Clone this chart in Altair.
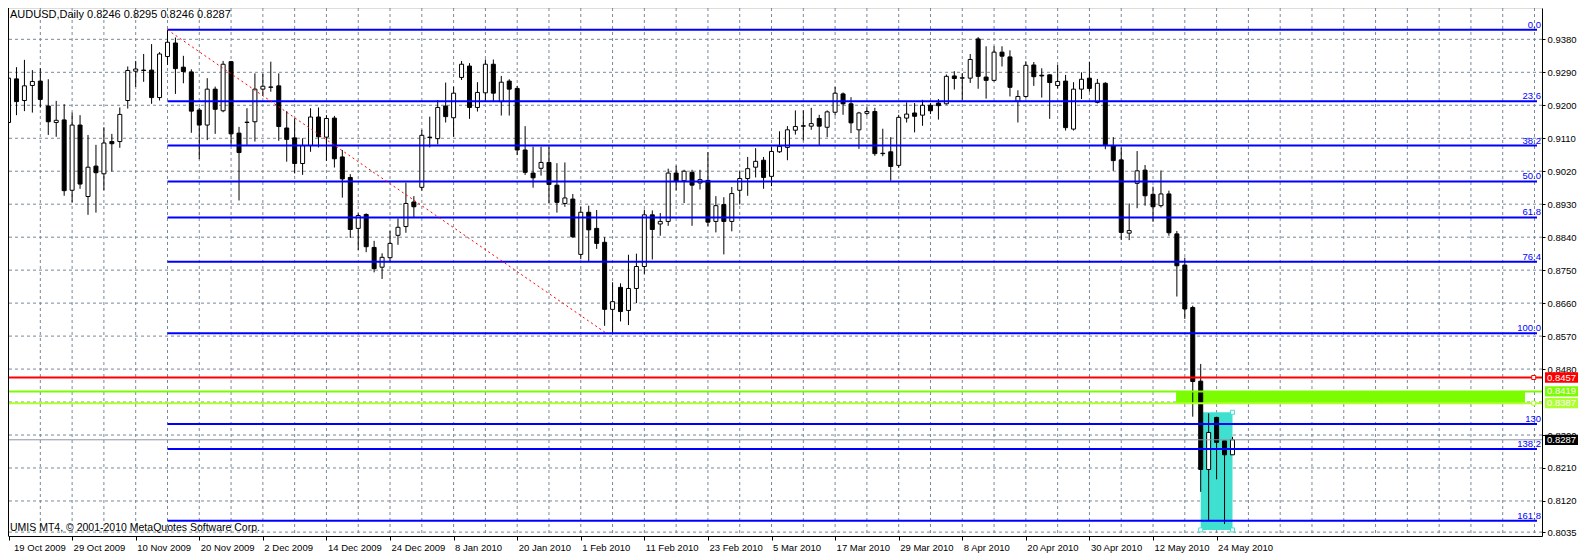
import altair as alt
import pandas as pd

# ---------------- data ----------------
opens = [
    0.9153, 0.9272, 0.9213, 0.9254, 0.9266, 0.9198, 0.9153, 0.9160, 0.8968, 0.9146,
    0.8951, 0.9034, 0.9013, 0.9101, 0.9101, 0.9213, 0.9293, 0.9296, 0.9296, 0.9221,
    0.9333, 0.9370, 0.9304, 0.9291, 0.9187, 0.9146, 0.9244, 0.9185, 0.9319, 0.9124,
    0.9154, 0.9155, 0.9244, 0.9249, 0.9253, 0.9138, 0.9111, 0.9041, 0.9090, 0.9168,
    0.9113, 0.9165, 0.9059, 0.9003, 0.8864, 0.8902, 0.8812, 0.8758, 0.8784, 0.8845,
    0.8869, 0.8936, 0.8976, 0.9113, 0.9109, 0.9198, 0.9166, 0.9276, 0.9307, 0.9194,
    0.9234, 0.9312, 0.9210, 0.9266, 0.9246, 0.9078, 0.9015, 0.9028, 0.9044, 0.8982,
    0.8932, 0.8944, 0.8793, 0.8908, 0.8864, 0.8826, 0.8643, 0.8703, 0.8640, 0.8700,
    0.8760, 0.8901, 0.8876, 0.8883, 0.9015, 0.8994, 0.9017, 0.8988, 0.8995, 0.8883,
    0.8929, 0.8883, 0.8968, 0.9000, 0.9031, 0.9050, 0.9006, 0.9073, 0.9085, 0.9132,
    0.9144, 0.9143, 0.9164, 0.9140, 0.9181, 0.9231, 0.9204, 0.9133, 0.9178, 0.9183,
    0.9069, 0.9073, 0.9036, 0.9165, 0.9179, 0.9173, 0.9200, 0.9206, 0.9204, 0.9280,
    0.9274, 0.9274, 0.9381, 0.9277, 0.9268, 0.9345, 0.9332, 0.9211, 0.9224, 0.9310,
    0.9282, 0.9283, 0.9254, 0.9266, 0.9135, 0.9244, 0.9274, 0.9208, 0.9260, 0.9089,
    0.9051, 0.8851, 0.8987, 0.9023, 0.8957, 0.8926, 0.8958, 0.8849, 0.8764, 0.8648,
    0.8447, 0.8206, 0.8348, 0.8284, 0.8246,
]
highs = [
    0.9283, 0.9304, 0.9324, 0.9296, 0.9301, 0.9271, 0.9212, 0.9203, 0.9180, 0.9173,
    0.9119, 0.9092, 0.9140, 0.9122, 0.9194, 0.9306, 0.9321, 0.9340, 0.9367, 0.9345,
    0.9406, 0.9385, 0.9335, 0.9298, 0.9193, 0.9274, 0.9251, 0.9321, 0.9321, 0.9141,
    0.9192, 0.9287, 0.9287, 0.9319, 0.9287, 0.9184, 0.9164, 0.9110, 0.9192, 0.9194,
    0.9173, 0.9171, 0.9078, 0.9012, 0.8905, 0.8905, 0.8830, 0.8796, 0.8857, 0.8891,
    0.8989, 0.8952, 0.9133, 0.9169, 0.9214, 0.9262, 0.9251, 0.9321, 0.9315, 0.9263,
    0.9325, 0.9325, 0.9280, 0.9271, 0.9253, 0.9143, 0.9087, 0.9087, 0.9087, 0.9042,
    0.9044, 0.8958, 0.8923, 0.8926, 0.8914, 0.8840, 0.8717, 0.8714, 0.8792, 0.8795,
    0.8915, 0.8913, 0.8906, 0.9027, 0.9035, 0.9024, 0.9024, 0.9024, 0.9072, 0.8952,
    0.8949, 0.8977, 0.9020, 0.9059, 0.9083, 0.9059, 0.9086, 0.9129, 0.9143, 0.9186,
    0.9186, 0.9193, 0.9174, 0.9186, 0.9250, 0.9235, 0.9222, 0.9182, 0.9195, 0.9193,
    0.9136, 0.9113, 0.9174, 0.9208, 0.9206, 0.9215, 0.9206, 0.9217, 0.9284, 0.9293,
    0.9288, 0.9340, 0.9386, 0.9361, 0.9361, 0.9361, 0.9350, 0.9241, 0.9320, 0.9318,
    0.9301, 0.9285, 0.9310, 0.9283, 0.9263, 0.9290, 0.9319, 0.9272, 0.9263, 0.9113,
    0.9085, 0.8932, 0.9075, 0.9037, 0.8978, 0.9022, 0.8967, 0.8857, 0.8784, 0.8653,
    0.8494, 0.8359, 0.8350, 0.8284, 0.8295,
]
lows = [
    0.9105, 0.9173, 0.9184, 0.9180, 0.9194, 0.9119, 0.9114, 0.8953, 0.8935, 0.8972,
    0.8901, 0.8907, 0.8968, 0.9019, 0.9084, 0.9191, 0.9250, 0.9264, 0.9204, 0.9213,
    0.9310, 0.9231, 0.9260, 0.9125, 0.9053, 0.9105, 0.9122, 0.9181, 0.9092, 0.8940,
    0.9092, 0.9101, 0.9226, 0.9237, 0.9103, 0.9046, 0.9014, 0.9010, 0.9073, 0.9085,
    0.9048, 0.9030, 0.8948, 0.8838, 0.8805, 0.8799, 0.8744, 0.8726, 0.8773, 0.8819,
    0.8852, 0.8894, 0.8967, 0.9085, 0.9093, 0.9153, 0.9114, 0.9269, 0.9163, 0.9183,
    0.9210, 0.9210, 0.9172, 0.9172, 0.9064, 0.9010, 0.8975, 0.9008, 0.8932, 0.8907,
    0.8923, 0.8838, 0.8780, 0.8775, 0.8808, 0.8598, 0.8578, 0.8610, 0.8600, 0.8660,
    0.8740, 0.8779, 0.8844, 0.8871, 0.8968, 0.8933, 0.8871, 0.8970, 0.8870, 0.8853,
    0.8793, 0.8856, 0.8929, 0.8953, 0.9003, 0.8972, 0.8979, 0.9070, 0.9050, 0.9120,
    0.9104, 0.9133, 0.9091, 0.9113, 0.9172, 0.9174, 0.9124, 0.9081, 0.9172, 0.9062,
    0.9061, 0.8994, 0.9029, 0.9153, 0.9126, 0.9144, 0.9176, 0.9161, 0.9202, 0.9243,
    0.9215, 0.9261, 0.9245, 0.9218, 0.9265, 0.9306, 0.9224, 0.9153, 0.9220, 0.9253,
    0.9221, 0.9163, 0.9246, 0.9131, 0.9131, 0.9217, 0.9237, 0.9205, 0.9080, 0.9021,
    0.8832, 0.8832, 0.8919, 0.8926, 0.8882, 0.8921, 0.8844, 0.8678, 0.8617, 0.8350,
    0.8145, 0.8068, 0.8179, 0.8057, 0.8246,
]
closes = [
    0.9274, 0.9210, 0.9253, 0.9265, 0.9216, 0.9155, 0.9159, 0.8967, 0.9146, 0.8985,
    0.9031, 0.9016, 0.9097, 0.9095, 0.9175, 0.9295, 0.9299, 0.9295, 0.9221, 0.9340,
    0.9372, 0.9300, 0.9292, 0.9184, 0.9146, 0.9244, 0.9189, 0.9312, 0.9122, 0.9071,
    0.9153, 0.9244, 0.9252, 0.9250, 0.9142, 0.9107, 0.9041, 0.9090, 0.9168, 0.9114,
    0.9164, 0.9054, 0.8999, 0.8861, 0.8899, 0.8814, 0.8754, 0.8785, 0.8823, 0.8867,
    0.8932, 0.8923, 0.9118, 0.9112, 0.9194, 0.9169, 0.9233, 0.9312, 0.9194, 0.9235,
    0.9312, 0.9233, 0.9263, 0.9244, 0.9078, 0.9017, 0.9002, 0.9044, 0.8984, 0.8935,
    0.8947, 0.8841, 0.8908, 0.8860, 0.8823, 0.8643, 0.8664, 0.8637, 0.8700, 0.8760,
    0.8901, 0.8861, 0.8883, 0.9015, 0.8992, 0.9020, 0.8982, 0.8997, 0.8881, 0.8926,
    0.8883, 0.8959, 0.9000, 0.9027, 0.9047, 0.9003, 0.9074, 0.9088, 0.9133, 0.9142,
    0.9143, 0.9150, 0.9143, 0.9182, 0.9233, 0.9204, 0.9152, 0.9179, 0.9183, 0.9068,
    0.9068, 0.9033, 0.9167, 0.9176, 0.9170, 0.9200, 0.9185, 0.9199, 0.9279, 0.9273,
    0.9275, 0.9325, 0.9279, 0.9268, 0.9345, 0.9334, 0.9249, 0.9224, 0.9309, 0.9278,
    0.9280, 0.9262, 0.9265, 0.9139, 0.9244, 0.9271, 0.9246, 0.9260, 0.9092, 0.9049,
    0.8853, 0.8858, 0.9021, 0.8953, 0.8923, 0.8958, 0.8852, 0.8762, 0.8644, 0.8446,
    0.8206, 0.8307, 0.8280, 0.8246, 0.8287,
]

date_labels = [
    "19 Oct 2009", "29 Oct 2009", "10 Nov 2009", "20 Nov 2009", "2 Dec 2009",
    "14 Dec 2009", "24 Dec 2009", "8 Jan 2010", "20 Jan 2010", "1 Feb 2010",
    "11 Feb 2010", "23 Feb 2010", "5 Mar 2010", "17 Mar 2010", "29 Mar 2010",
    "8 Apr 2010", "20 Apr 2010", "30 Apr 2010", "12 May 2010", "24 May 2010",
]
bars_per_label = 8
bars_per_grid = 4

y_grid_values = [0.9470, 0.9380, 0.9290, 0.9200, 0.9110, 0.9020, 0.8930, 0.8840,
                 0.8750, 0.8660, 0.8570, 0.8480, 0.8390, 0.8300, 0.8210, 0.8120, 0.8035]
y_label_values = [0.9380, 0.9290, 0.9200, 0.9110, 0.9020, 0.8930, 0.8840,
                  0.8750, 0.8660, 0.8570, 0.8480, 0.8300, 0.8210, 0.8120, 0.8035]

fib_names = ["0.0", "23.6", "38.2", "50.0", "61.8", "76.4", "100.0", "130", "138.2", "161.8"]
fib_prices = [0.9406, 0.9211, 0.9090, 0.8992, 0.8894, 0.8773, 0.8578, 0.8330, 0.8262, 0.8066]
fib_start_bar = 20

trend_bars = [20, 75.2]
trend_prices = [0.9406, 0.8578]

teal_bars = [150, 154]
teal_prices = [0.8362, 0.8041]
green_bars = [146.9, 190.8]
green_prices = [0.8419, 0.8387]

level_prices = [0.8457, 0.8419, 0.8387]
level_colors = ["#ff0000", "#7cfc00", "#adff2f"]
last_price = 0.8287

tag_prices = [0.8457, 0.8419, 0.8387, 0.8287]
tag_colors = ["#ff0000", "#7cfc00", "#adff2f", "#000000"]

marker_bars = [191.9, 191.9, 154, 150, 154]
marker_prices = [0.8457, 0.8387, 0.8362, 0.8041, 0.8041]
marker_colors = ["#ff0000", "#adff2f", "#40e0d0", "#40e0d0", "#40e0d0"]

symbol = "AUDUSD,Daily"
footer = "UMIS MT4, \u00a9 2001-2010 MetaQuotes Software Corp."

# ---------------- layout ----------------
FONT = "Liberation Sans"
AX_SIZE = 9.5
W, H = 1534, 528
x_dom = [0.5625, 0.5625 + W / 8.0]
y_dom = [0.80244, 0.94655]

xs = alt.Scale(domain=x_dom, nice=False, zero=False)
ys = alt.Scale(domain=y_dom, nice=False, zero=False)

label_bars = [i * bars_per_label for i in range(len(date_labels))]
label_expr = "[" + ",".join("'%s'" % d for d in date_labels) + "][round(datum.value / %d)]" % bars_per_label

x_axis = alt.Axis(
    values=label_bars, labelExpr=label_expr, grid=False,
    domain=True, domainColor="black", domainWidth=1,
    ticks=True, tickSize=4, tickColor="black", labelAlign="left",
    labelBaseline="top", labelPadding=2,
    labelOffset={"condition": {"test": "datum.value < 1", "value": 5}, "value": 1},
    labelFont=FONT, labelFontSize=AX_SIZE, labelColor="black",
    labelFlush=False, labelOverlap=False, labelBound=False, title=None,
)
y_axis = alt.Axis(
    orient="right", values=y_label_values, format=".4f", grid=False,
    domain=True, domainColor="black", domainWidth=1,
    ticks=True, tickSize=3, tickColor="black", labelPadding=2,
    labelFont=FONT, labelFontSize=AX_SIZE, labelColor="black",
    labelFlush=False, labelOverlap=False, labelBound=False, title=None,
)


def X(f):
    return alt.X(f, type="quantitative", scale=xs, axis=x_axis)


def Y(f):
    return alt.Y(f, type="quantitative", scale=ys, axis=y_axis)


n = len(opens)
candles = pd.DataFrame({"bar": list(range(n)), "open": opens, "high": highs,
                        "low": lows, "close": closes})

grid_bars = list(range(0, int(x_dom[1]) + 1, bars_per_grid))
GRID = "#778899"

vgrid = alt.Chart(pd.DataFrame({"b": grid_bars})).mark_rule(
    color=GRID, strokeDash=[3, 3], strokeWidth=1, clip=True).encode(x=X("b"))
hgrid = alt.Chart(pd.DataFrame({"p": y_grid_values})).mark_rule(
    color=GRID, strokeDash=[3, 3], strokeWidth=1, clip=True).encode(y=Y("p"))

teal = alt.Chart(pd.DataFrame({"b1": [teal_bars[0]], "b2": [teal_bars[1]],
                               "p1": [teal_prices[0]], "p2": [teal_prices[1]]})).mark_rect(
    color="#40e0d0", clip=True).encode(x=X("b1"), x2="b2", y=Y("p1"), y2="p2")
green = alt.Chart(pd.DataFrame({"b1": [green_bars[0]], "b2": [green_bars[1]],
                                "p1": [green_prices[0]], "p2": [green_prices[1]]})).mark_rect(
    color="#7cfc00", clip=True).encode(x=X("b1"), x2="b2", y=Y("p1"), y2="p2")

wicks = alt.Chart(candles).mark_rule(color="black", strokeWidth=1, clip=True).encode(
    x=X("bar"), y=Y("low"), y2="high")
bodies = alt.Chart(candles).mark_bar(size=4, stroke="black", strokeWidth=1, clip=True).encode(
    x=X("bar"), y=Y("open"), y2="close",
    fill=alt.condition("datum.close >= datum.open", alt.value("white"), alt.value("black")))

fib_df = pd.DataFrame({"name": fib_names, "p": fib_prices,
                       "start": [fib_start_bar] * len(fib_names),
                       "end": [x_dom[1]] * len(fib_names)})
fib_lines = alt.Chart(fib_df).mark_rule(color="#0000ff", strokeWidth=2, clip=True).encode(
    x=X("start"), x2="end", y=Y("p"))
fib_text = alt.Chart(fib_df).mark_text(
    align="right", baseline="alphabetic", dy=-2, color="#0000ff",
    font=FONT, fontSize=AX_SIZE).encode(x=alt.value(W - 1), y=Y("p"), text="name:N")

trend = alt.Chart(pd.DataFrame({"b": trend_bars, "p": trend_prices})).mark_line(
    color="#ff0000", strokeDash=[2, 3], strokeWidth=1, clip=True).encode(x=X("b"), y=Y("p"))

levels = alt.Chart(pd.DataFrame({"p": level_prices, "c": level_colors})).mark_rule(
    strokeWidth=2, clip=True).encode(y=Y("p"), color=alt.Color("c:N", scale=None))
price_line = alt.Chart(pd.DataFrame({"p": [last_price]})).mark_rule(
    color="#8c96a0", strokeWidth=1, clip=True).encode(y=Y("p"))

markers = alt.Chart(pd.DataFrame({"b": marker_bars, "p": marker_prices, "c": marker_colors})).mark_square(
    size=16, filled=True, fill="white", strokeWidth=1, opacity=1).encode(
    x=X("b"), y=Y("p"), stroke=alt.Color("c:N", scale=None))

# left frame edge of the chart window
left_edge = alt.Chart(pd.DataFrame({"k": [0]})).mark_rule(color="black", strokeWidth=1).encode(
    x=alt.value(0.5), y=alt.value(0), y2=alt.value(H))

title_txt = "%s  %.4f %.4f %.4f %.4f" % (symbol, opens[-1], highs[-1], lows[-1], closes[-1])
top_text = alt.Chart(pd.DataFrame({"t": [title_txt]})).mark_text(
    align="left", baseline="alphabetic", font=FONT, fontSize=11, color="black").encode(
    x=alt.value(2), y=alt.value(10), text="t:N")
foot_text = alt.Chart(pd.DataFrame({"t": [footer]})).mark_text(
    align="left", baseline="alphabetic", font=FONT, fontSize=10.5, color="black").encode(
    x=alt.value(2), y=alt.value(523), text="t:N")

tag_df = pd.DataFrame({"p": tag_prices, "c": tag_colors})
tag_box = alt.Chart(tag_df).transform_calculate(
    top="datum.p + 0.0014", bot="datum.p - 0.0014").mark_rect(clip=False).encode(
    x=alt.value(W + 3), x2=alt.value(W + 36), y=Y("top:Q"), y2="bot:Q",
    color=alt.Color("c:N", scale=None))
tag_text = alt.Chart(tag_df).mark_text(
    align="left", baseline="middle", color="white", font=FONT, fontSize=AX_SIZE).encode(
    x=alt.value(W + 5), y=Y("p"), text=alt.Text("p:Q", format=".4f"))

chart = alt.layer(
    vgrid, hgrid, teal, green, wicks, bodies, fib_lines, trend, levels, price_line,
    markers, left_edge, fib_text, top_text, foot_text, tag_box, tag_text,
).properties(
    width=W, height=H,
    autosize=alt.AutoSizeParams(type="none"),
    padding={"left": 0, "top": 0, "right": 36, "bottom": 17},
).configure_view(strokeWidth=0).configure(background="white")

chart.save("out.html", embed_options={"renderer": "svg", "actions": False})
